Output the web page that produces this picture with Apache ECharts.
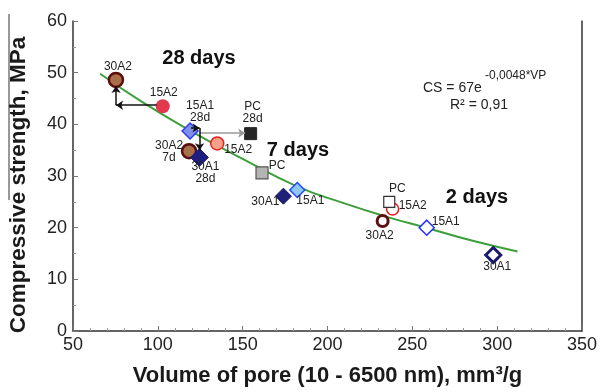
<!DOCTYPE html>
<html>
<head>
<meta charset="utf-8">
<script src="https://cdn.jsdelivr.net/npm/echarts@6/dist/echarts.min.js"></script>
<style>
  html, body { margin: 0; padding: 0; background: #fff; }
  #chart { width: 600px; height: 392px; }
</style>
</head>
<body>
<div id="chart"></div>
<script>
// ages: 28d, 7d, 2d
const ages = ['28d', '7d', '2d'];
const mixes = ['30A2', '15A2', '15A1', '30A1', 'PC'];

const vp30A2 = [75.3, 118.4, 232.5];
const cs30A2 = [48.6, 34.8, 21.3];
const vp15A2 = [102.9, 135.0, 238.4];
const cs15A2 = [43.5, 36.3, 23.6];
const vp15A1 = [119.0, 182.2, 258.5];
const cs15A1 = [38.7, 27.3, 20.0];
const vp30A1 = [124.5, 174.0, 297.7];
const cs30A1 = [33.6, 26.1, 14.7];
const vpPC = [154.7, 161.4, 236.4];
const csPC = [38.2, 30.6, 25.0];

// fitted curve
const fitVP = [66, 90, 119, 150, 182, 210, 236, 258, 285, 312];
const fitCS = [49.8, 44.5, 38.8, 33.3, 28.0, 24.7, 22.0, 20.0, 17.5, 15.4];

// arrows (start, end) in data units
const arrows = [
  { from: [99.3, 43.7], to: [75.4, 43.7], color: '#111' },
  { from: [75.4, 43.7], to: [75.4, 47.4], color: '#111' },
  { from: [124.8, 38.3], to: [151.5, 38.3], color: '#999' },
  { from: [119.5, 39.3], to: [124.6, 39.3], color: '#111' },
  { from: [124.6, 39.3], to: [124.6, 35.0], color: '#111' }
];

const vpData = { '30A2': vp30A2, '15A2': vp15A2, '15A1': vp15A1, '30A1': vp30A1, 'PC': vpPC };
const csData = { '30A2': cs30A2, '15A2': cs15A2, '15A1': cs15A1, '30A1': cs30A1, 'PC': csPC };

// marker styles per mix, in age order
const styles = {
  '30A2': [
    { symbol: 'circle', size: 14, fill: '#a8704a', stroke: '#5c0c0c', bw: 2.5 },
    { symbol: 'circle', size: 14, fill: '#a8704a', stroke: '#5c0c0c', bw: 2.5 },
    { symbol: 'circle', size: 11, fill: '#fff', stroke: '#5c1010', bw: 3 }
  ],
  '15A2': [
    { symbol: 'circle', size: 14, fill: '#e03a4c', stroke: '#e03a4c', bw: 0 },
    { symbol: 'circle', size: 13, fill: '#f4a288', stroke: '#e82020', bw: 1.5 },
    { symbol: 'circle', size: 12, fill: '#fff', stroke: '#f01818', bw: 1.5 }
  ],
  '15A1': [
    { symbol: 'diamond', size: 16, fill: '#8090e6', stroke: '#2838ff', bw: 1.5 },
    { symbol: 'diamond', size: 15, fill: '#8cc8f0', stroke: '#2848ff', bw: 1.5 },
    { symbol: 'diamond', size: 15, fill: '#fff', stroke: '#2030ff', bw: 1.5 }
  ],
  '30A1': [
    { symbol: 'diamond', size: 18, fill: '#1e1e7e', stroke: '#1e1e7e', bw: 1 },
    { symbol: 'diamond', size: 16, fill: '#20207a', stroke: '#12125a', bw: 1 },
    { symbol: 'diamond', size: 15, fill: '#fff', stroke: '#1a1a70', bw: 3 }
  ],
  'PC': [
    { symbol: 'rect', size: 12, fill: '#262626', stroke: '#262626', bw: 1 },
    { symbol: 'rect', size: 12, fill: '#b4b4b4', stroke: '#555', bw: 1.2 },
    { symbol: 'rect', size: 11, fill: '#fff', stroke: '#333', bw: 1.2 }
  ]
};

// label text and pixel offset from the marker centre
const labels = {
  '30A2': [['30A2', [2, -13]], ['30A2\n7d', [-20, 0]], ['30A2', [-3, 15]]],
  '15A2': [['15A2', [1, -14]], ['15A2', [21, 6]], ['15A2', [20, -3]]],
  '15A1': [['15A1\n28d', [10, -19]], ['15A1', [13, 11]], ['15A1', [19, -6]]],
  '30A1': [['30A1\n28d', [6, 15]], ['30A1', [-18, 6]], ['30A1', [4, 12]]],
  'PC': [['PC\n28d', [2, -21]], ['PC', [15, -7]], ['PC', [8, -13]]]
};

const FONT = '"Liberation Sans", Arial, sans-serif';
const chart = echarts.init(document.getElementById('chart'));

const series = [];
series.push({
  type: 'line',
  data: fitVP.map((v, i) => [v, fitCS[i]]),
  smooth: true,
  symbol: 'none',
  lineStyle: { color: '#3c9f3c', width: 2 },
  z: 1,
  silent: true
});
series.push({
  type: 'scatter',
  data: [],
  z: 3,
  markLine: {
    silent: true,
    symbol: ['none', 'arrow'],
    symbolSize: 7,
    label: { show: false },
    animation: false,
    data: arrows.map(a => [
      { coord: a.from, lineStyle: { color: a.color, width: 1.5, type: 'solid' } },
      { coord: a.to }
    ])
  }
});
mixes.forEach(m => {
  ages.forEach((age, i) => {
    const s = styles[m][i];
    const [txt, off] = labels[m][i];
    series.push({
      type: 'scatter',
      name: m + ' ' + age,
      symbol: s.symbol,
      symbolSize: s.size,
      z: 4,
      itemStyle: { color: s.fill, borderColor: s.stroke, borderWidth: s.bw, opacity: 1 },
      label: {
        show: true,
        position: 'inside',
        offset: off,
        formatter: txt,
        color: '#222',
        fontFamily: FONT,
        fontSize: 12,
        lineHeight: 12
      },
      data: [[vpData[m][i], csData[m][i]]]
    });
  });
});

const option = {
  animation: false,
  grid: { left: 73, right: 18, top: 21, bottom: 60 },
  xAxis: {
    type: 'value',
    min: 50, max: 350, interval: 50,
    name: 'Volume of pore (10 - 6500 nm), mm³/g',
    nameLocation: 'middle',
    nameGap: 34,
    nameTextStyle: { fontFamily: FONT, fontSize: 22, fontWeight: 'bold', color: '#1a1a1a' },
    axisLine: { lineStyle: { color: '#333', width: 1.5 } },
    axisTick: { inside: true, length: 5, lineStyle: { color: '#777' } },
    minorTick: { show: true, splitNumber: 5, length: 3, lineStyle: { color: '#999' } },
    axisLabel: { fontFamily: FONT, fontSize: 18, color: '#222', margin: 5 },
    splitLine: { show: false }
  },
  yAxis: [{
    type: 'value',
    min: 0, max: 60, interval: 10,
    axisLine: { show: true, lineStyle: { color: '#333', width: 1.5 } },
    axisTick: { show: true, inside: true, length: 5, lineStyle: { color: '#777' } },
    minorTick: { show: true, splitNumber: 2, length: 3, lineStyle: { color: '#999' } },
    axisLabel: { fontFamily: FONT, fontSize: 18, color: '#222', margin: 6 },
    splitLine: { show: false }
  }, {
    type: 'value',
    position: 'right',
    min: 0, max: 60,
    axisLine: { show: true, lineStyle: { color: '#333', width: 1.5 } },
    axisTick: { show: false },
    axisLabel: { show: false },
    splitLine: { show: false }
  }],
  graphic: [
    { type: 'text', x: 19, y: 185, rotation: Math.PI / 2,
      style: { text: 'Compressive strength, MPa', font: 'bold 22.5px ' + FONT, fill: '#1a1a1a', textAlign: 'center', textVerticalAlign: 'middle' } },
    { type: 'line', shape: { x1: 9, y1: 14, x2: 9, y2: 200 }, style: { stroke: '#333', lineWidth: 1 } },
    { type: 'text', x: 199, y: 58,
      style: { text: '28 days', font: 'bold 20px ' + FONT, fill: '#111', textAlign: 'center', textVerticalAlign: 'middle' } },
    { type: 'text', x: 298, y: 150,
      style: { text: '7 days', font: 'bold 20px ' + FONT, fill: '#111', textAlign: 'center', textVerticalAlign: 'middle' } },
    { type: 'text', x: 477, y: 197,
      style: { text: '2 days', font: 'bold 20px ' + FONT, fill: '#111', textAlign: 'center', textVerticalAlign: 'middle' } },
    { type: 'text', x: 423, y: 88,
      style: { text: 'CS = 67e', font: '14px ' + FONT, fill: '#222', textAlign: 'left', textVerticalAlign: 'middle' } },
    { type: 'text', x: 485, y: 76,
      style: { text: '-0,0048*VP', font: '12px ' + FONT, fill: '#222', textAlign: 'left', textVerticalAlign: 'middle' } },
    { type: 'text', x: 479, y: 105,
      style: { text: 'R² = 0,91', font: '14px ' + FONT, fill: '#222', textAlign: 'center', textVerticalAlign: 'middle' } }
  ],
  series: series
};

chart.setOption(option);
</script>
</body>
</html>
